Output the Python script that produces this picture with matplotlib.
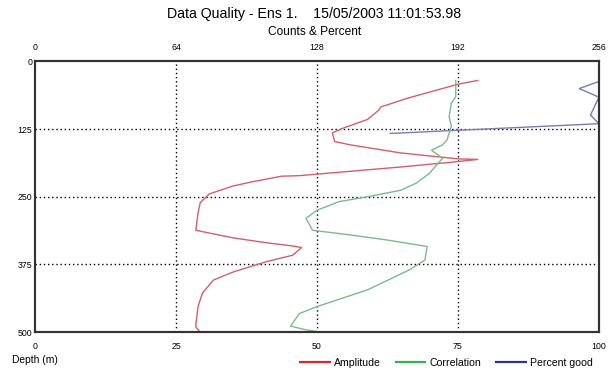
import numpy as np
import pandas as pd
import matplotlib
matplotlib.use("Agg")
import matplotlib.pyplot as plt
from matplotlib.lines import Line2D

plt.rcParams['font.family'] = ['Liberation Sans', 'DejaVu Sans']

# amplitude (counts) vs depth (m)
amp_depth = [35, 42, 68, 84, 90, 107, 123, 132, 148, 154, 169, 180, 181, 185, 195, 211,
             212, 222, 230, 245, 261, 280, 312, 326, 335, 341, 344, 358, 370, 389, 404,
             428, 453, 487, 491, 500]
amp_counts = [201, 192, 169, 157, 156, 151, 140, 135, 136, 143, 166, 192, 201, 192, 166, 120,
              112, 99, 90, 79, 75, 74, 73, 90, 105, 117, 121, 117, 105, 90, 81,
              76, 74, 73, 73, 75]

# correlation (counts) vs depth (m)
cor_depth = [35, 65, 77, 102, 120, 145, 154, 164, 170, 179, 188, 207, 225, 238, 250, 259,
             275, 290, 312, 320, 330, 342, 367, 385, 422, 453, 466, 489, 496, 500]
cor_counts = [191, 191, 189, 188, 189, 187, 185, 180, 182, 185, 183, 179, 173, 166, 151, 138,
              128, 123, 126, 142, 160, 178, 177, 170, 151, 128, 120, 116, 123, 130]

# percent good vs depth (m)
pg_depth = [30, 37, 50, 66, 99, 115, 133]
pg_pct = [100, 100, 96.5, 100, 98.5, 100, 63]

fig = plt.figure(figsize=(6.09, 3.72), dpi=100)
ax = fig.add_axes([0.0575, 0.1075, 0.926, 0.7272])
ax.set_xlim(0, 100)
ax.set_ylim(500, 0)
ax.set_xticks([0, 25, 50, 75, 100])
ax.set_yticks([0, 125, 250, 375, 500])
ax.tick_params(axis='x', length=0, labelsize=6.3, pad=7)
ax.tick_params(axis='y', length=0, labelsize=6.3, pad=2)

ax2 = ax.twiny()
ax2.set_xlim(0, 256)
ax2.set_xticks([0, 64, 128, 192, 256])
ax2.tick_params(axis='x', length=0, labelsize=6.3, pad=7)

for v in [25, 50, 75]:
    ax.axvline(v, color='black', lw=1.0, linestyle=(0, (1, 2)), zorder=1)
for v in [125, 250, 375]:
    ax.axhline(v, color='black', lw=1.0, linestyle=(0, (1, 2)), zorder=1)

ax2.plot(amp_counts, amp_depth, color='#d0606c', lw=1.0)
ax2.plot(cor_counts, cor_depth, color='#78bb8a', lw=1.0)
ax.plot(pg_pct, pg_depth, color='#7a7ab6', lw=1.0)

for a in (ax, ax2):
    for s in a.spines.values():
        s.set_color('#333333')
        s.set_linewidth(1.5)

fig.text(0.516, 0.962, "Data Quality - Ens 1.    15/05/2003 11:01:53.98",
         ha='center', va='center', fontsize=10.2)
fig.text(0.516, 0.914, "Counts & Percent", ha='center', va='center', fontsize=8.6)
fig.text(0.02, 0.032, "Depth (m)", ha='left', va='center', fontsize=7.4)

handles = [Line2D([], [], color='#d42a2a', lw=1.6),
           Line2D([], [], color='#2fb34c', lw=1.6),
           Line2D([], [], color='#2e3192', lw=1.6)]
fig.legend(handles, ["Amplitude", "Correlation", "Percent good"], loc='center right',
           bbox_to_anchor=(0.982, 0.025), ncol=3, frameon=False, fontsize=7.6,
           handlelength=2.8, handletextpad=0.4, columnspacing=1.4, borderpad=0)

fig.savefig("out.png", dpi=100)
